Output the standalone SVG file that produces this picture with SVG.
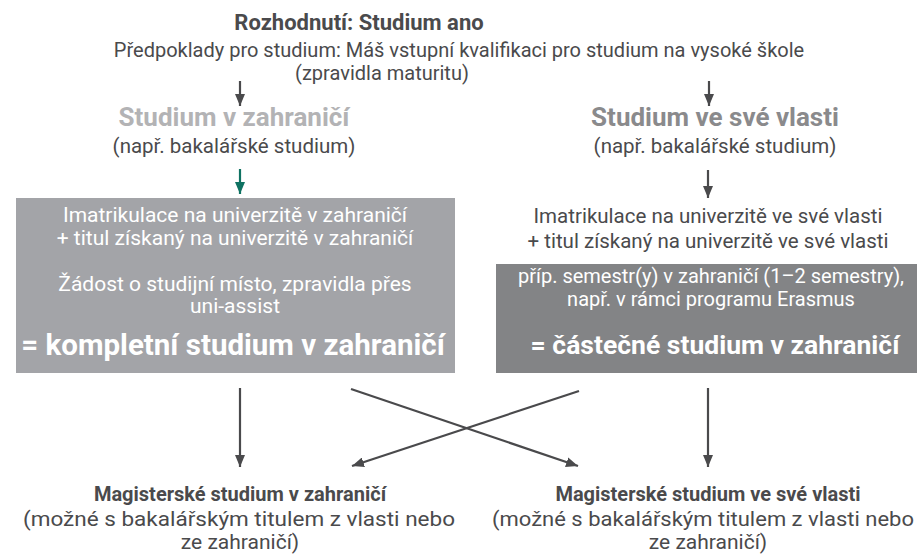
<svg xmlns="http://www.w3.org/2000/svg" width="917" height="555" viewBox="0 0 917 555">
<defs>
<marker id="ah" viewBox="0 0 12 10" refX="12" refY="5" markerWidth="12" markerHeight="10" markerUnits="userSpaceOnUse" orient="auto">
<path d="M0,0 L12,5 L0,10 z" fill="#4a4a4c"/>
</marker>
<marker id="ahg" viewBox="0 0 12 10" refX="12" refY="5" markerWidth="12" markerHeight="10" markerUnits="userSpaceOnUse" orient="auto">
<path d="M0,0 L12,5 L0,10 z" fill="#0f7262"/>
</marker>
<style>
text{font-family:Roboto,"Liberation Sans",sans-serif;text-anchor:middle;}
.t{font-size:20.5px;fill:#4a4a4c;}
.b{font-weight:bold;}
.w{fill:#ffffff;font-size:21px;}
.m{font-size:21px;fill:#4a4a4c;}
.c{stroke:#4a4a4c;stroke-width:2.2;fill:none;marker-end:url(#ah);}
</style>
</defs>
<rect width="917" height="555" fill="#ffffff"/>
<g id="decision">
<text x="359" y="30" class="t b" style="font-size:22px">Rozhodnutí: Studium ano</text>
<text x="459" y="57" class="t" style="font-size:20px">Předpoklady pro studium: Máš vstupní kvalifikaci pro studium na vysoké škole</text>
<text x="382" y="80" class="t" style="font-size:20px">(zpravidla maturitu)</text>
</g>
<g id="abroad">
<text x="234" y="126" class="b" style="font-size:26px;fill:#b3b3b5">Studium v zahraničí</text>
<text x="234" y="153" class="t">(např. bakalářské studium)</text>
</g>
<g id="home">
<text x="715" y="126" class="b" style="font-size:26px;fill:#8a8a8c">Studium ve své vlasti</text>
<text x="715" y="153" class="t">(např. bakalářské studium)</text>
</g>
<g id="fullAbroad">
<rect x="16" y="198" width="439" height="175" fill="#a3a4a8"/>
<text x="235" y="222" class="w">Imatrikulace na univerzitě v zahraničí</text>
<text x="235" y="245" class="w">+ titul získaný na univerzitě v zahraničí</text>
<text x="235" y="291" class="w">Žádost o studijní místo, zpravidla přes</text>
<text x="235" y="313" class="w">uni-assist</text>
<text x="233" y="355" class="w b" style="font-size:29.5px">= kompletní studium v zahraničí</text>
</g>
<g id="homeEnrol">
<text x="708" y="223" class="t">Imatrikulace na univerzitě ve své vlasti</text>
<text x="708" y="248" class="t">+ titul získaný na univerzitě ve své vlasti</text>
</g>
<g id="partialAbroad">
<rect x="496" y="264" width="421" height="109" fill="#838486"/>
<text x="711" y="283" class="w" style="font-size:20px">příp. semestr(y) v zahraničí (1–2 semestry),</text>
<text x="711" y="306" class="w" style="font-size:20px">např. v rámci programu Erasmus</text>
<text x="715" y="354" class="w b" style="font-size:26.5px">= částečné studium v zahraničí</text>
</g>
<g id="masterAbroad">
<text x="240" y="501" class="m b" style="font-size:20px">Magisterské studium v zahraničí</text>
<text x="239" y="526" class="m" textLength="432" lengthAdjust="spacingAndGlyphs">(možné s bakalářským titulem z vlasti nebo</text>
<text x="240" y="549" class="m">ze zahraničí)</text>
</g>
<g id="masterHome">
<text x="708" y="501" class="m b" style="font-size:20px">Magisterské studium ve své vlasti</text>
<text x="703" y="526" class="m" textLength="422" lengthAdjust="spacingAndGlyphs">(možné s bakalářským titulem z vlasti nebo</text>
<text x="708" y="549" class="m">ze zahraničí)</text>
</g>
<g id="connectors">
<line x1="240" y1="81" x2="240" y2="106" class="c"/>
<line x1="709" y1="81" x2="709" y2="106" class="c"/>
<line x1="240" y1="169" x2="240" y2="194" style="stroke:#0f7262;stroke-width:2.2;marker-end:url(#ahg)"/>
<line x1="708" y1="170" x2="708" y2="198" class="c"/>
<line x1="240" y1="388" x2="240" y2="467" class="c"/>
<line x1="708" y1="388" x2="708" y2="467" class="c"/>
<line x1="351" y1="389" x2="578" y2="466" class="c"/>
<line x1="579" y1="391" x2="352" y2="466" class="c"/>
</g>
</svg>
